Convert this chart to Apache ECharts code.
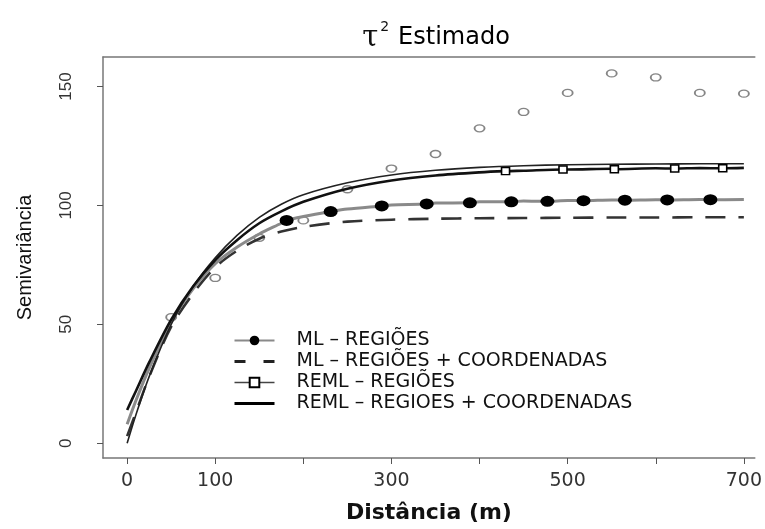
<!DOCTYPE html>
<html><head><meta charset="utf-8">
<script src="https://cdn.jsdelivr.net/npm/echarts@6/dist/echarts.min.js"></script>
<style>html,body{margin:0;padding:0;background:#fff}#c{width:765px;height:529px}</style>
</head><body><div id="c"></div>
<script>
// Distances at which the fitted model curves were read
const curveX = [0,10,25,50,75,100,125,150,175,200,250,300,350,400,450,500,550,600,650,700];
// ML – REGIÕES (line with filled circles)
const mlReg = [8,18,31.5,51,65,75.5,82.5,88,92.5,95.3,98.5,100.2,101,101.5,101.9,102.1,102.3,102.4,102.5,102.5];
const mlRegMarkX = [181,231,289,340,389,436,477,518,565,613,662];
const mlRegMarkY = [93.7,97.4,99.8,100.6,101.1,101.5,101.7,102,102.2,102.3,102.4];
// ML – REGIÕES + COORDENADAS (dashed)
const mlRegCoord = [3,13,28,49,63,74,81,86,89,91,93.2,94,94.4,94.6,94.7,94.8,94.9,94.9,95,95];
// REML – REGIÕES (line with open squares)
const remlReg = [14,22,34,52,66,77,85.5,92.5,97.5,101.5,107,110.5,112.6,113.9,114.6,115.1,115.4,115.6,115.7,115.8];
const remlRegMarkX = [429.5,494.7,553,621.5,676];
const remlRegMarkY = [114.4,115.1,115.2,115.5,115.6];
// REML – REGIOES + COORDENADAS (solid)
const remlRegCoord = [0,12,28,50,66,78,87.5,95,100.5,104.5,109.5,112.8,114.8,116,116.7,117.1,117.3,117.4,117.5,117.5];
// Empirical semivariogram (open circles)
const empX = [50,100,150,200,250,300,350,400,450,500,550,600,650,700];
const empY = [53,69.5,86.4,93.7,106.8,115.5,121.6,132.4,139.3,147.3,155.5,153.8,147.3,147];
// Axis ticks / labels
const xTicks = [0,100,200,300,400,500,600,700];
const xLabels = [0,100,300,500,700];
const yTicks = [0,50,100,150];

const names = ['ML – REGIÕES','ML – REGIÕES + COORDENADAS','REML – REGIÕES','REML – REGIOES + COORDENADAS'];

function merge(xs, ys, mx, my) {
  const pts = xs.map((x,i)=>({value:[x,ys[i]], symbol:'none'}));
  mx.forEach((x,i)=>pts.push({value:[x,my[i]]}));
  pts.sort((a,b)=>a.value[0]-b.value[0]);
  return pts;
}
const pair = (xs, ys) => xs.map((x,i)=>[x,ys[i]]);

const axisLineStyle = {color:'#777', width:1.5};
const chart = echarts.init(document.getElementById('c'));
chart.setOption({
  animation:false,
  backgroundColor:'#fff',
  title:{
    text:'{t|τ}{s|2}{e|Estimado}',
    left:431, top:15, textAlign:'center',
    textStyle:{
      fontWeight:'normal',
      rich:{
        t:{fontFamily:'DejaVu Serif', fontSize:29, fontWeight:'normal', color:'#111', lineHeight:36},
        s:{fontFamily:'DejaVu Sans', fontSize:14, fontWeight:'normal', color:'#111', verticalAlign:'top', lineHeight:14, padding:[0,9,0,2]},
        e:{fontFamily:'DejaVu Sans', fontSize:24, fontWeight:'normal', color:'#000', lineHeight:36}
      }
    }
  },
  grid:{left:103, right:5, top:57, bottom:66},
  legend:{
    orient:'vertical', left:233, top:331,
    itemWidth:40, itemHeight:12, itemGap:2, padding:0,
    textStyle:{fontFamily:'DejaVu Sans', fontSize:19, color:'#111', padding:[0,0,0,17]},
    data:[
      {name:names[0]},
      {name:names[1], itemStyle:{opacity:0}, lineStyle:{type:[11,18], width:3, color:'#222'}},
      {name:names[2], lineStyle:{width:1.3, color:'#444'}},
      {name:names[3], itemStyle:{opacity:0}, lineStyle:{width:3, color:'#000'}}
    ]
  },
  xAxis:[{
    type:'value', min:-27.4, max:712.4, position:'bottom',
    axisLine:{show:true, onZero:false, lineStyle:axisLineStyle},
    axisTick:{show:true, length:6, customValues:xTicks, lineStyle:{color:'#555', width:1}},
    axisLabel:{customValues:xLabels, margin:14, fontSize:19, color:'#333', fontFamily:'DejaVu Sans'},
    splitLine:{show:false},
    name:'Distância (m)', nameLocation:'middle', nameGap:44,
    nameTextStyle:{fontFamily:'DejaVu Sans', fontSize:22, fontWeight:'bold', color:'#111'}
  },{
    type:'value', min:-27.4, max:712.4, position:'top',
    axisLine:{show:true, onZero:false, lineStyle:axisLineStyle},
    axisTick:{show:false}, axisLabel:{show:false}, splitLine:{show:false}
  }],
  yAxis:{
    type:'value', min:-6.2, max:162.4,
    axisLine:{show:true, onZero:false, lineStyle:axisLineStyle},
    axisTick:{show:true, length:6, customValues:yTicks, lineStyle:{color:'#555', width:1}},
    axisLabel:{customValues:yTicks, rotate:90, margin:28, fontSize:17, color:'#333', fontFamily:'Liberation Sans'},
    splitLine:{show:false},
    name:'Semivariância', nameLocation:'middle', nameGap:68,
    nameTextStyle:{fontFamily:'Liberation Sans', fontSize:20, color:'#111'}
  },
  series:[
    {type:'scatter', name:'empirico', data:pair(empX, empY), symbol:'circle', symbolSize:[10,7],
     itemStyle:{color:'#fff', borderColor:'#666', borderWidth:1.6}, z:3},
    {type:'line', name:names[1], data:pair(curveX, mlRegCoord), symbol:'none', smooth:0.3,
     lineStyle:{color:'#333', width:2.6, type:[20,13]}, z:4},
    {type:'line', name:names[0], data:merge(curveX, mlReg, mlRegMarkX, mlRegMarkY), smooth:0.3,
     symbol:'circle', symbolSize:[14,11], showSymbol:true, showAllSymbol:true,
     lineStyle:{color:'#8a8a8a', width:3}, itemStyle:{color:'#000'}, z:5},
    {type:'line', name:names[2], data:merge(curveX, remlReg, remlRegMarkX, remlRegMarkY), smooth:0.3,
     symbol:'rect', symbolSize:[8,7], showSymbol:true, showAllSymbol:true,
     lineStyle:{color:'#111', width:2.6}, itemStyle:{color:'#fff', borderColor:'#000', borderWidth:1.5}, z:6},
    {type:'line', name:names[3], data:pair(curveX, remlRegCoord), symbol:'none', smooth:0.3,
     lineStyle:{color:'#222', width:1.6}, z:5}
  ]
});
</script></body></html>
